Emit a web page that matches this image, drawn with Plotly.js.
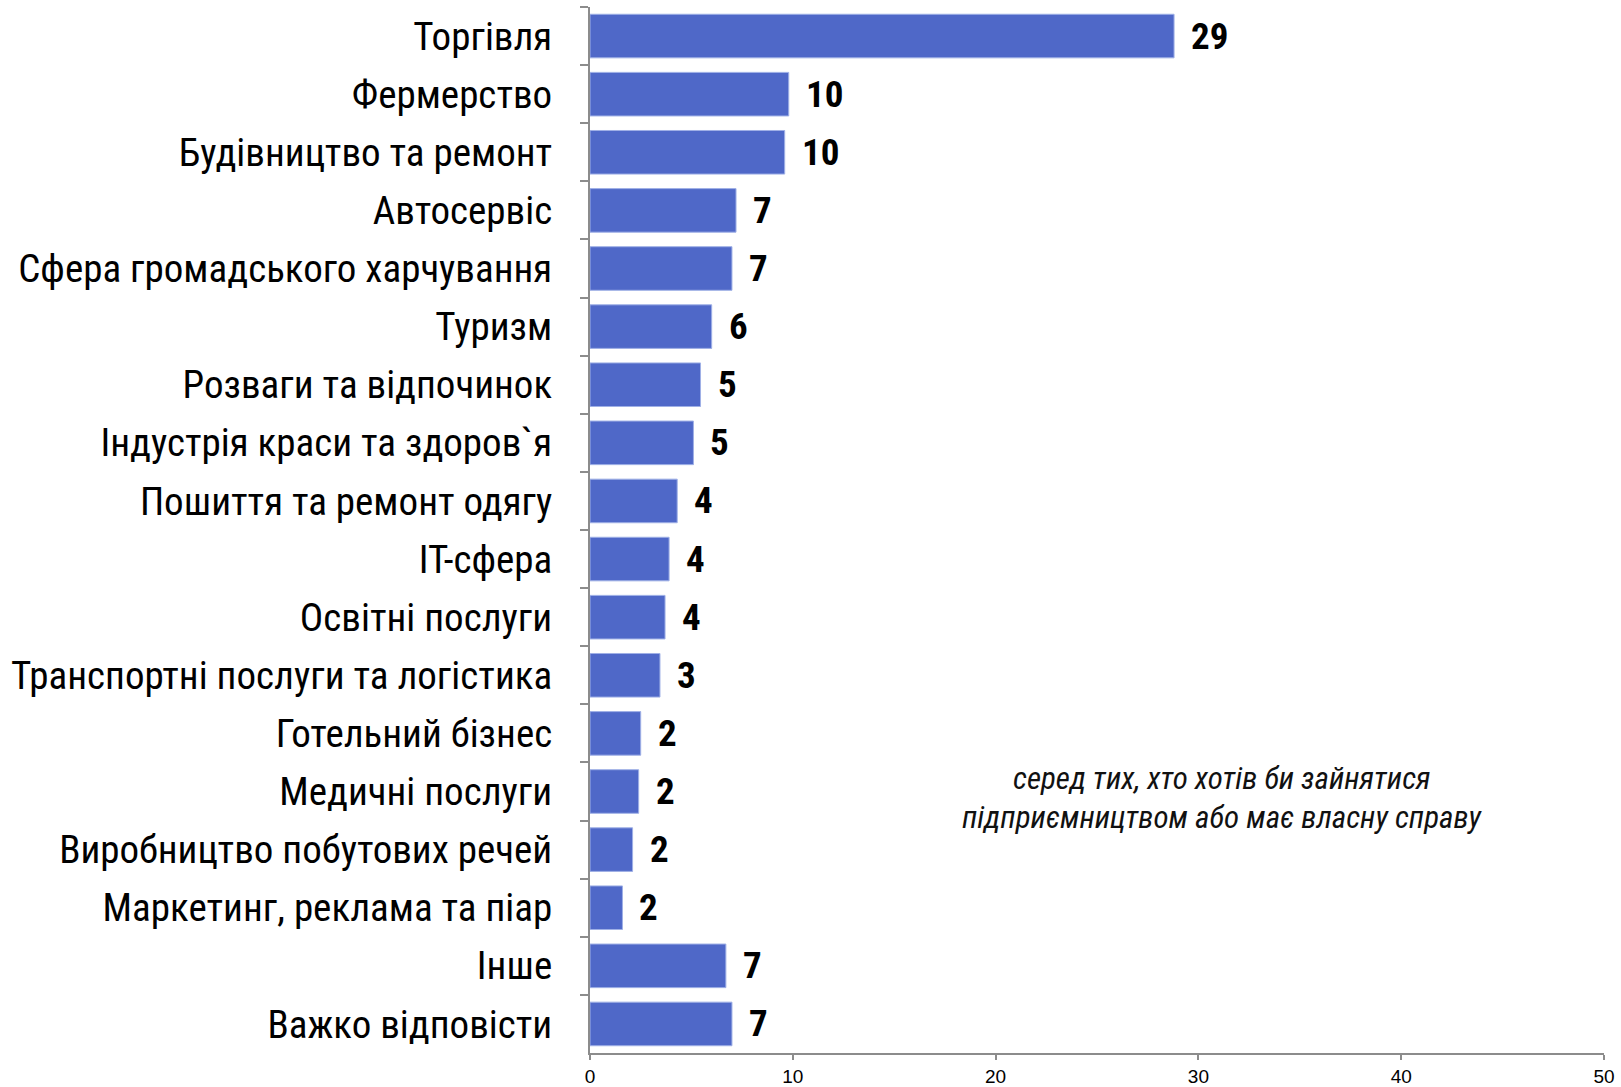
<!DOCTYPE html>
<html>
<head>
<meta charset="utf-8">
<script src="https://cdn.plot.ly/plotly-3.0.1.min.js"></script>
<style>html,body{margin:0;padding:0;background:#fff;}#chart{width:1621px;height:1087px;}</style>
</head>
<body>
<div id="chart"></div>
<script>
const categories = [
  "Торгівля",
  "Фермерство",
  "Будівництво та ремонт",
  "Автосервіс",
  "Сфера громадського харчування",
  "Туризм",
  "Розваги та відпочинок",
  "Індустрія краси та здоров`я",
  "Пошиття та ремонт одягу",
  "IT-сфера",
  "Освітні послуги",
  "Транспортні послуги та логістика",
  "Готельний бізнес",
  "Медичні послуги",
  "Виробництво побутових речей",
  "Маркетинг, реклама та піар",
  "Інше",
  "Важко відповісти"
];
const values = [28.8, 9.8, 9.6, 7.2, 7.0, 6.0, 5.45, 5.1, 4.3, 3.9, 3.7, 3.45, 2.5, 2.4, 2.1, 1.6, 6.7, 7.0];
const valueLabels = ["29", "10", "10", "7", "7", "6", "5", "5", "4", "4", "4", "3", "2", "2", "2", "2", "7", "7"];
const xTicks = [0, 10, 20, 30, 40, 50];
const noteLines = ["серед тих, хто хотів би зайнятися", "підприємництвом або має власну справу"];

const F_C = "'Roboto Condensed', 'Liberation Sans', sans-serif";
const F_N = "'Liberation Sans', Arial, sans-serif";

const trace = {
  type: "bar",
  orientation: "h",
  y: categories,
  x: values,
  marker: {color: "#4F68C8", line: {color: "#9FB0E6", width: 1}},
  hoverinfo: "none",
  showlegend: false
};

const annotations = categories.map((c, i) => ({
  x: values[i], y: c, xref: "x", yref: "y",
  text: valueLabels[i], showarrow: false,
  xanchor: "left", yanchor: "middle", xshift: 15,
  font: {family: F_C, size: 37, color: "#000", weight: 700}
}));
const noteY = [0.262, 0.225];
noteLines.forEach((t, i) => annotations.push({
  xref: "paper", yref: "paper", x: 0.623, y: noteY[i],
  text: t, showarrow: false, xanchor: "center", yanchor: "middle",
  font: {family: F_C, size: 31, color: "#111", style: "italic"}
}));

const layout = {
  width: 1621, height: 1087,
  margin: {l: 590, r: 17, t: 7, b: 34},
  paper_bgcolor: "#fff", plot_bgcolor: "#fff",
  bargap: 0.25,
  xaxis: {
    range: [0, 50], tickvals: xTicks, ticktext: xTicks.map(String),
    showgrid: false, zeroline: false,
    showline: true, linecolor: "#8C8C8C", linewidth: 2,
    ticks: "outside", ticklen: 5, tickcolor: "#8C8C8C", tickwidth: 2,
    ticklabelstandoff: 0,
    tickfont: {family: F_N, size: 19, color: "#000"}
  },
  yaxis: {
    type: "category", autorange: "reversed",
    showgrid: false, zeroline: false,
    showline: true, linecolor: "#8C8C8C", linewidth: 2,
    ticks: "outside", ticklen: 8, tickcolor: "#8C8C8C", tickwidth: 2,
    tickson: "boundaries",
    ticklabelstandoff: 28,
    tickfont: {family: F_C, size: 39, color: "#000"}
  },
  annotations: annotations
};

Plotly.newPlot("chart", [trace], layout, {displayModeBar: false, staticPlot: true});
</script>
</body>
</html>
